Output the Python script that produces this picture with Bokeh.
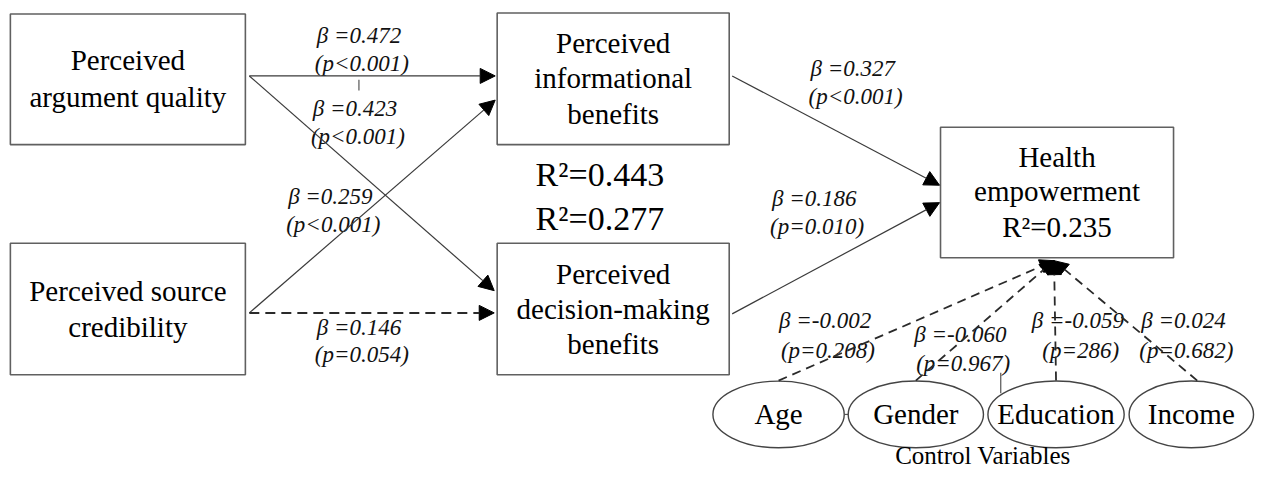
from bokeh.plotting import figure
from bokeh.models import Range1d, Arrow, NormalHead
from bokeh.core.properties import value
from bokeh.embed import file_html
from bokeh.resources import INLINE

# ---------------- data ----------------
node_ids = ["PAQ", "PSC", "PIB", "PDB", "HE"]
node_lines = [
    ["Perceived", "argument quality"],
    ["Perceived source", "credibility"],
    ["Perceived", "informational", "benefits"],
    ["Perceived", "decision-making", "benefits"],
    ["Health", "empowerment", "R²=0.235"],
]
path_from = ["PAQ", "PAQ", "PSC", "PSC", "PIB", "PDB"]
path_to = ["PIB", "PDB", "PIB", "PDB", "HE", "HE"]
path_beta = ["0.472", "0.423", "0.259", "0.146", "0.327", "0.186"]
path_p = ["p<0.001", "p<0.001", "p<0.001", "p=0.054", "p<0.001", "p=0.010"]
path_significant = [True, True, True, False, True, True]
r2_labels = ["R²=0.443", "R²=0.277"]
controls = ["Age", "Gender", "Education", "Income"]
control_beta = ["-0.002", "-0.060", "-0.059", "0.024"]
control_p = ["p=0.208", "p=0.967", "p=286", "p=0.682"]
group_label = "Control Variables"

# ---------------- layout (reference pixel coordinates) ----------------
box_rect = {  # x0, y0, x1, y1
    "PAQ": (10, 14, 248, 149),
    "PSC": (10, 251, 248, 387),
    "PIB": (503, 13, 738, 149),
    "PDB": (503, 251, 738, 387),
    "HE": (952, 131, 1188, 266),
}
box_line_y = {
    "PAQ": [62, 100],
    "PSC": [300, 338],
    "PIB": [44, 80, 117],
    "PDB": [283, 319, 355],
    "HE": [162, 197, 234],
}
path_geom = [
    ((252, 78), (501, 78)),
    ((252, 78), (500, 300)),
    ((252, 323), (501, 103)),
    ((252, 323), (500, 323)),
    ((741, 78), (951, 191)),
    ((741, 324), (951, 209)),
]
path_label_pos = [(366, 36, 65), (362, 112, 141), (337, 203, 232),
                  (366, 338, 366), (866, 70, 99), (827, 205, 234)]
r2_pos = [(607, 180), (607, 225)]
ell_x = [788, 927, 1069, 1206]
ell_y = 428
ell_w = [133, 137, 138, 126]
ell_h = 69
ctrl_start = [(788, 393), (927, 393), (1069, 393), (1212, 393)]
ctrl_tip = (1067, 269)
ctrl_label_pos = [(838, 331, 362), (975, 345, 375), (1094, 331, 362), (1201, 331, 362)]

W, H = 1255, 471
p = figure(width=W, height=H, x_range=Range1d(0, 1271), y_range=Range1d(487, 0),
           output_backend="svg", toolbar_location=None,
           x_axis_type=None, y_axis_type=None, min_border=0)
p.grid.visible = False
p.outline_line_color = None
p.background_fill_color = "white"
p.border_fill_color = "white"

SERIF = value("Liberation Serif")
LINE = "#3a3a3a"
BOX = "#606060"

# boxes
for nid, lines in zip(node_ids, node_lines):
    x0, y0, x1, y1 = box_rect[nid]
    p.quad(left=[x0], right=[x1], top=[y0], bottom=[y1], fill_color="white",
           line_color=BOX, line_width=1.6)
    p.text(x=[(x0 + x1) / 2] * len(lines), y=box_line_y[nid], text=lines,
           text_font=SERIF, text_font_size="29px", text_align="center",
           text_baseline="middle", text_color="black")

# paths
for (s, e), sig, beta, pv, (lx, ly1, ly2) in zip(path_geom, path_significant, path_beta, path_p, path_label_pos):
    p.add_layout(Arrow(end=NormalHead(size=15, fill_color="black", line_color="black"),
                       x_start=s[0], y_start=s[1], x_end=e[0], y_end=e[1],
                       line_color=LINE if sig else "#2a2a2a",
                       line_width=1.2 if sig else 2.0,
                       line_dash="solid" if sig else "10 6"))
    p.text(x=[lx, lx], y=[ly1, ly2], text=["β  =" + beta, "(" + pv + ")"],
           text_font=SERIF, text_font_style="italic", text_font_size="23px",
           text_align="center", text_baseline="middle", text_color="#111111")

# R2 labels
p.text(x=[q[0] for q in r2_pos], y=[q[1] for q in r2_pos], text=r2_labels,
       text_font=SERIF, text_font_size="34px", text_align="center",
       text_baseline="middle", text_color="black")

# control-variable paths
for (sx, sy), beta, pv, (lx, ly1, ly2) in zip(ctrl_start, control_beta, control_p, ctrl_label_pos):
    p.add_layout(Arrow(end=NormalHead(size=14, fill_color="black", line_color="black"),
                       x_start=sx, y_start=sy, x_end=ctrl_tip[0], y_end=ctrl_tip[1],
                       line_color="#2a2a2a", line_width=1.8, line_dash="9 6"))
    p.text(x=[lx, lx], y=[ly1, ly2], text=["β  =" + beta, "(" + pv + ")"],
           text_font=SERIF, text_font_style="italic", text_font_size="23px",
           text_align="center", text_baseline="middle", text_color="#111111")

# small stray marks of the original drawing
p.segment(x0=[363, 1013, 855], y0=[82, 385, 428], x1=[363, 1013, 859], y1=[93, 406, 428],
          line_color="#555555", line_width=1.2)

# ellipses
p.ellipse(x=ell_x, y=[ell_y] * 4, width=ell_w, height=[ell_h] * 4,
          fill_color="white", line_color="#444444", line_width=1.4)
p.text(x=ell_x, y=[ell_y] * 4, text=controls, text_font=SERIF, text_font_size="29px",
       text_align="center", text_baseline="middle", text_color="black")
p.text(x=[995], y=[470], text=[group_label], text_font=SERIF, text_font_size="25px",
       text_align="center", text_baseline="middle", text_color="black")

open("out.html", "w").write(file_html(p, INLINE))
